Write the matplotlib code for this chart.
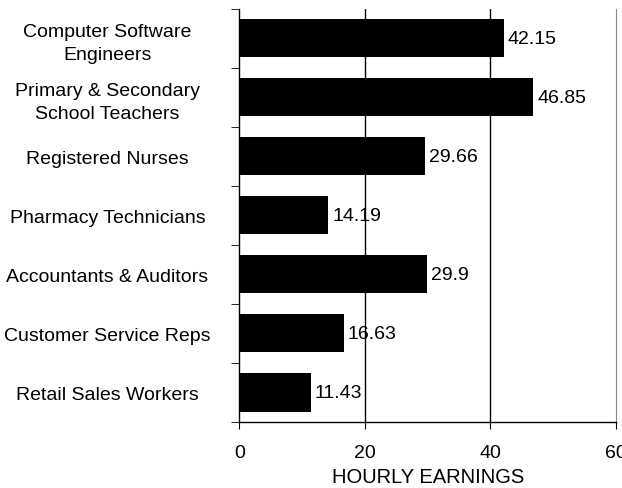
import numpy as np
import matplotlib
matplotlib.use('Agg')
import matplotlib.pyplot as plt

plt.rcParams['font.family'] = ['Liberation Sans', 'DejaVu Sans']

# data, top to bottom as in the reference
jobs = ['Computer Software\nEngineers', 'Primary & Secondary\nSchool Teachers',
        'Registered Nurses', 'Pharmacy Technicians', 'Accountants & Auditors',
        'Customer Service Reps', 'Retail Sales Workers']
earnings = [42.15, 46.85, 29.66, 14.19, 29.9, 16.63, 11.43]
xticks = [0, 20, 40, 60]

fig = plt.figure(figsize=(6.22, 4.89), dpi=100)
ax = fig.add_axes([0.385, 0.135, 0.605, 0.845])

y = np.arange(len(jobs))[::-1]
ax.barh(y, earnings, height=0.645, color='black', zorder=3)

# value labels
for yi, v in zip(y, earnings):
    ax.text(v + 0.6, yi, str(v), va='center', ha='left', fontsize=14, zorder=4)

ax.set_xlim(0, 60)
ax.set_ylim(-0.5, len(jobs) - 0.5)
ax.set_xticks(xticks)
ax.tick_params(axis='x', labelsize=14, length=5, direction='out', pad=11)
# gridlines at 20 and 40, grey border at 60
for xv in xticks[1:-1]:
    ax.axvline(xv, color='black', linewidth=1, zorder=1)
ax.set_xlabel('HOURLY EARNINGS', fontsize=14.5, labelpad=4)

# category labels at centers, ticks at boundaries
ax.set_yticks(y)
ax.set_yticklabels(jobs, fontsize=14, ha='center', linespacing=1.45)
ax.tick_params(axis='y', which='major', length=0, pad=95)
ax.set_yticks(np.arange(len(jobs) + 1) - 0.5, minor=True)
ax.tick_params(axis='y', which='minor', length=5.5, direction='out')

ax.spines['top'].set_visible(False)
ax.spines['right'].set_color('#888888')
for s in ['left', 'bottom']:
    ax.spines[s].set_linewidth(1)

fig.savefig('out.png', dpi=100)
